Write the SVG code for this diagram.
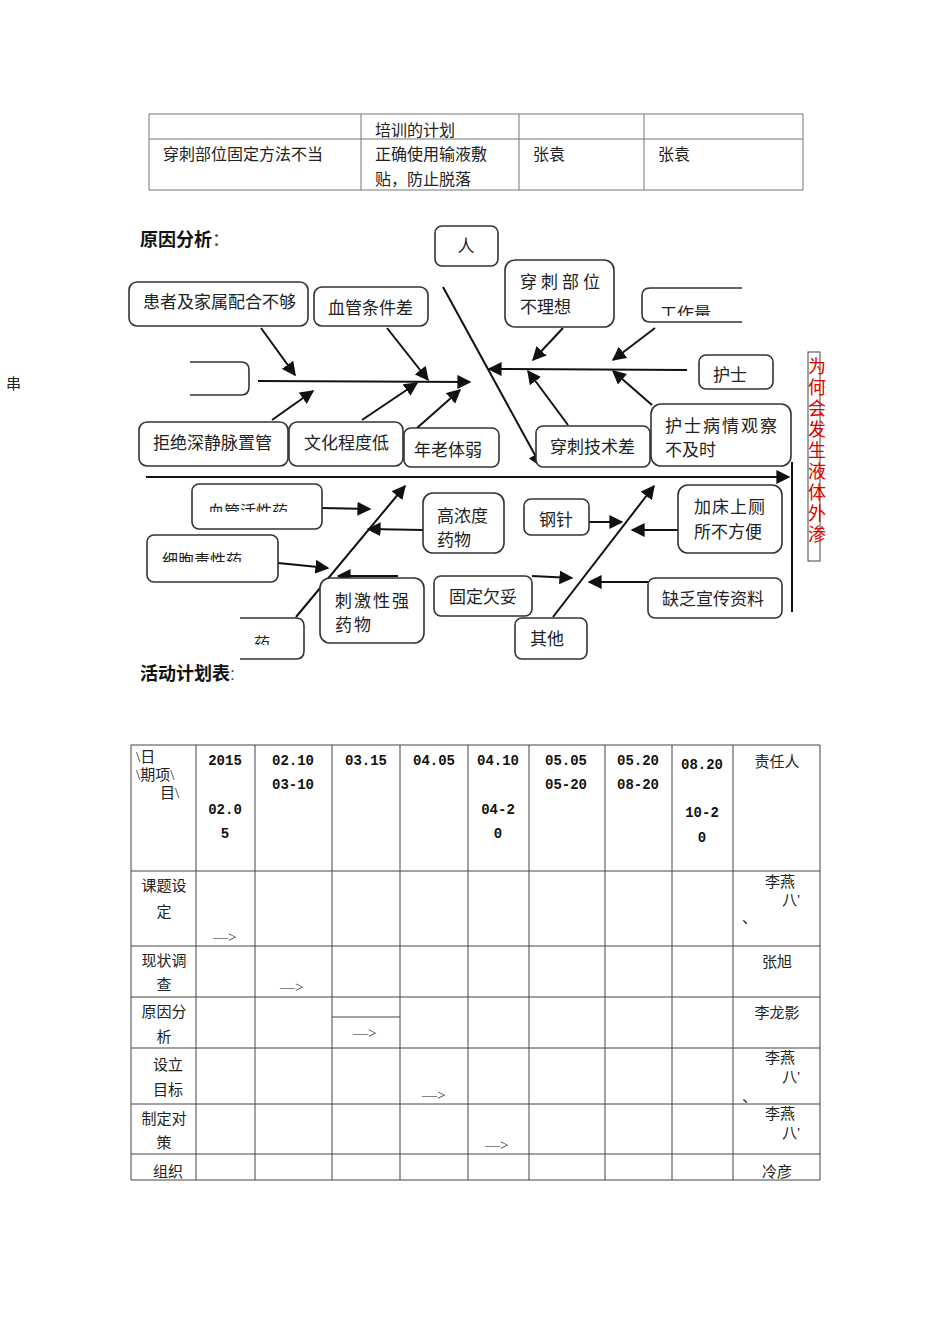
<svg xmlns="http://www.w3.org/2000/svg" width="950" height="1344" viewBox="0 0 950 1344">
<style>
.t{font-family:"Liberation Serif","Noto Sans CJK SC",serif;font-size:16px;fill:#222}
.f{font-size:17px}
.b{font-family:"Liberation Sans","Noto Sans CJK SC",sans-serif;font-size:18px;font-weight:bold;fill:#111}
.n{font-family:"Liberation Mono","Noto Sans CJK SC",monospace;font-size:14px;font-weight:bold;fill:#111}
.s{font-family:"Liberation Serif","Noto Sans CJK SC",serif;font-size:15px;fill:#222}
.bx{fill:#fff;stroke:#333;stroke-width:1.6}
.tl{stroke:#777;stroke-width:1;fill:none}
.tk{stroke:#444;stroke-width:1;fill:none}
.ln{stroke:#111;stroke-width:2;fill:none}
.ar{stroke:#111;stroke-width:2;fill:none;marker-end:url(#ah)}
.red{font-family:"Liberation Sans","Noto Sans CJK SC",sans-serif;font-size:18px;fill:#e00000}
</style>
<defs>
<marker id="ah" viewBox="0 0 10 10" refX="9" refY="5" markerWidth="7" markerHeight="7" orient="auto" markerUnits="strokeWidth">
<path d="M0,0 L10,5 L0,10 z" fill="#111"/>
</marker>
<clipPath id="c1"><rect x="640" y="280" width="110" height="36"/></clipPath>
<clipPath id="c2"><rect x="190" y="480" width="140" height="32"/></clipPath>
<clipPath id="c3"><rect x="145" y="530" width="140" height="32"/></clipPath>
<clipPath id="c4"><rect x="236" y="615" width="70" height="30"/></clipPath>
</defs>
<rect width="950" height="1344" fill="#fff"/>

<!-- top table -->
<g id="top-table">
<path class="tl" d="M149,114 H803 M149,139 H803 M149,190 H803 M149,114 V190 M361,114 V190 M519,114 V190 M644,114 V190 M803,114 V190"/>
<text class="t" x="375" y="136">培训的计划</text>
<text class="t" x="163" y="160">穿刺部位固定方法不当</text>
<text class="t" x="375" y="160">正确使用输液敷</text>
<text class="t" x="375" y="185">贴，防止脱落</text>
<text class="t" x="533" y="160">张袁</text>
<text class="t" x="658" y="160">张袁</text>
</g>

<text class="b" x="140" y="246">原因分析<tspan font-weight="normal" fill="#555">：</tspan></text>
<text class="s" x="6" y="389" font-size="12">串</text>

<!-- connectors -->
<g id="connectors">
<line class="ar" x1="258" y1="381" x2="470" y2="382"/>
<line class="ar" x1="687" y1="370" x2="489" y2="369"/>
<line class="ar" x1="443" y1="287" x2="541" y2="466"/>
<line class="ar" x1="146" y1="477" x2="789" y2="477"/>
<line class="ln" x1="792" y1="462" x2="792" y2="612"/>
<line class="ar" x1="261" y1="328" x2="295" y2="375"/>
<line class="ar" x1="387" y1="328" x2="428" y2="380"/>
<line class="ar" x1="272" y1="420" x2="313" y2="391"/>
<line class="ar" x1="362" y1="420" x2="417" y2="383"/>
<line class="ar" x1="417" y1="428" x2="460" y2="390"/>
<line class="ar" x1="563" y1="328" x2="533" y2="360"/>
<line class="ar" x1="655" y1="328" x2="613" y2="360"/>
<line class="ar" x1="568" y1="425" x2="528" y2="371"/>
<line class="ar" x1="652" y1="405" x2="613" y2="371"/>
<line class="ar" x1="322" y1="508" x2="370" y2="509"/>
<line class="ar" x1="278" y1="563" x2="328" y2="568"/>
<line class="ar" x1="296" y1="617" x2="405" y2="486"/>
<line class="ar" x1="423" y1="530" x2="368" y2="529"/>
<line class="ar" x1="398" y1="576" x2="338" y2="576"/>
<line class="ar" x1="589" y1="522" x2="622" y2="522"/>
<line class="ar" x1="678" y1="530" x2="632" y2="530"/>
<line class="ar" x1="532" y1="576" x2="572" y2="578"/>
<line class="ar" x1="648" y1="582" x2="589" y2="582"/>
<line class="ar" x1="553" y1="617" x2="654" y2="486"/>
</g>

<!-- fishbone nodes -->
<g id="n-ren"><rect class="bx" x="435" y="226" width="63" height="40" rx="7"/><text class="t f" x="466" y="252" text-anchor="middle">人</text></g>
<g id="n-huanzhe"><rect class="bx" x="129" y="282" width="179" height="44" rx="8"/><text class="t f" x="143" y="308">患者及家属配合不够</text></g>
<g id="n-xueguan"><rect class="bx" x="314" y="287" width="114" height="39" rx="8"/><text class="t f" x="328" y="314">血管条件差</text></g>
<g id="n-chuanci"><rect class="bx" x="505" y="260" width="109" height="67" rx="10"/><text class="t f" x="520" y="288" letter-spacing="4">穿刺部位</text><text class="t f" x="520" y="313">不理想</text></g>
<g id="n-gongzuo"><path class="bx" d="M742,288 H650 Q642,288 642,296 V314 Q642,322 650,322 H742"/><text class="t f" x="660" y="320" clip-path="url(#c1)">工作量</text></g>
<g id="n-empty"><path class="bx" d="M190,362 H241 Q249,362 249,370 V387 Q249,395 241,395 H190"/></g>
<g id="n-hushi"><rect class="bx" x="699" y="355" width="74" height="34" rx="7"/><text class="t f" x="713" y="381">护士</text></g>
<g id="n-jujue"><rect class="bx" x="139" y="422" width="149" height="44" rx="8"/><text class="t f" x="153" y="449">拒绝深静脉置管</text></g>
<g id="n-wenhua"><rect class="bx" x="289" y="422" width="114" height="44" rx="8"/><text class="t f" x="304" y="449">文化程度低</text></g>
<g id="n-nianlao"><rect class="bx" x="404" y="428" width="95" height="39" rx="7"/><text class="t f" x="414" y="456">年老体弱</text></g>
<g id="n-jishu"><rect class="bx" x="536" y="426" width="114" height="41" rx="7"/><text class="t f" x="550" y="453">穿刺技术差</text></g>
<g id="n-guancha"><rect class="bx" x="651" y="404" width="140" height="62" rx="10"/><text class="t f" x="665" y="432" letter-spacing="2">护士病情观察</text><text class="t f" x="665" y="456">不及时</text></g>
<g id="n-title"><rect x="808" y="352" width="12" height="209" fill="none" stroke="#444" stroke-width="1"/>
<text class="red" x="817" y="373" text-anchor="middle">为</text><text class="red" x="817" y="394" text-anchor="middle">何</text><text class="red" x="817" y="415" text-anchor="middle">会</text><text class="red" x="817" y="436" text-anchor="middle">发</text><text class="red" x="817" y="457" text-anchor="middle">生</text><text class="red" x="817" y="478" text-anchor="middle">液</text><text class="red" x="817" y="499" text-anchor="middle">体</text><text class="red" x="817" y="520" text-anchor="middle">外</text><text class="red" x="817" y="541" text-anchor="middle">渗</text></g>
<g id="n-huoxing"><rect class="bx" x="192" y="484" width="130" height="45" rx="7"/><text class="t" x="208" y="517" clip-path="url(#c2)">血管活性药</text></g>
<g id="n-xibao"><rect class="bx" x="147" y="535" width="131" height="47" rx="7"/><text class="t" x="162" y="566" clip-path="url(#c3)">细胞毒性药</text></g>
<g id="n-yao"><path class="bx" d="M240,618 H296 Q304,618 304,626 V651 Q304,659 296,659 H240"/><text class="t" x="254" y="649" clip-path="url(#c4)">药</text></g>
<g id="n-ciji"><rect class="bx" x="320" y="578" width="104" height="65" rx="10"/><text class="t f" x="335" y="607" letter-spacing="2">刺激性强</text><text class="t f" x="335" y="631" letter-spacing="2">药物</text></g>
<g id="n-gaonong"><rect class="bx" x="423" y="493" width="81" height="60" rx="10"/><text class="t f" x="437" y="522">高浓度</text><text class="t f" x="437" y="546">药物</text></g>
<g id="n-gangzhen"><rect class="bx" x="524" y="499" width="65" height="36" rx="7"/><text class="t f" x="539" y="526">钢针</text></g>
<g id="n-jiachuang"><rect class="bx" x="678" y="485" width="104" height="68" rx="10"/><text class="t f" x="694" y="513" letter-spacing="1">加床上厕</text><text class="t f" x="694" y="538">所不方便</text></g>
<g id="n-guding"><rect class="bx" x="434" y="576" width="98" height="40" rx="7"/><text class="t f" x="449" y="603">固定欠妥</text></g>
<g id="n-quefa"><rect class="bx" x="648" y="578" width="134" height="40" rx="7"/><text class="t f" x="662" y="605">缺乏宣传资料</text></g>
<g id="n-qita"><rect class="bx" x="515" y="618" width="72" height="41" rx="7"/><text class="t f" x="530" y="645">其他</text></g>

<text class="b" x="140" y="680">活动计划表<tspan font-weight="normal" fill="#555">:</tspan></text>

<!-- bottom table -->
<g id="plan-table">
<path class="tk" d="M131,745 H820 M131,871 H820 M131,946 H820 M131,997 H820 M131,1048 H820 M131,1104 H820 M131,1154 H820 M131,1180 H820 M332,1017 H400"/>
<path class="tk" d="M131,745 V1180 M196,745 V1180 M255,745 V1180 M332,745 V1180 M400,745 V1180 M468,745 V1180 M529,745 V1180 M605,745 V1180 M672,745 V1180 M733,745 V1180 M820,745 V1180"/>
<text class="s" x="136" y="762" font-size="13">\日</text>
<text class="s" x="136" y="780" font-size="13">\期项\</text>
<text class="s" x="160" y="798" font-size="13">目\</text>
<text class="n" x="225" y="765" text-anchor="middle">2015</text>
<text class="n" x="225" y="814" text-anchor="middle">02.0</text>
<text class="n" x="225" y="838" text-anchor="middle">5</text>
<text class="n" x="293" y="765" text-anchor="middle">02.10</text>
<text class="n" x="293" y="789" text-anchor="middle">03-10</text>
<text class="n" x="366" y="765" text-anchor="middle">03.15</text>
<text class="n" x="434" y="765" text-anchor="middle">04.05</text>
<text class="n" x="498" y="765" text-anchor="middle">04.10</text>
<text class="n" x="498" y="814" text-anchor="middle">04-2</text>
<text class="n" x="498" y="838" text-anchor="middle">0</text>
<text class="n" x="566" y="765" text-anchor="middle">05.05</text>
<text class="n" x="566" y="789" text-anchor="middle">05-20</text>
<text class="n" x="638" y="765" text-anchor="middle">05.20</text>
<text class="n" x="638" y="789" text-anchor="middle">08-20</text>
<text class="n" x="702" y="769" text-anchor="middle">08.20</text>
<text class="n" x="702" y="817" text-anchor="middle">10-2</text>
<text class="n" x="702" y="842" text-anchor="middle">0</text>
<text class="s" x="777" y="767" text-anchor="middle">责任人</text>

<text class="s" x="164" y="891" text-anchor="middle">课题设</text>
<text class="s" x="164" y="917" text-anchor="middle">定</text>
<text class="s" x="213" y="942">—&gt;</text>
<text class="s" x="164" y="966" text-anchor="middle">现状调</text>
<text class="s" x="164" y="990" text-anchor="middle">查</text>
<text class="s" x="280" y="992">—&gt;</text>
<text class="s" x="164" y="1017" text-anchor="middle">原因分</text>
<text class="s" x="164" y="1042" text-anchor="middle">析</text>
<text class="s" x="353" y="1038">—&gt;</text>
<text class="s" x="168" y="1070" text-anchor="middle">设立</text>
<text class="s" x="168" y="1095" text-anchor="middle">目标</text>
<text class="s" x="422" y="1100">—&gt;</text>
<text class="s" x="164" y="1124" text-anchor="middle">制定对</text>
<text class="s" x="164" y="1148" text-anchor="middle">策</text>
<text class="s" x="485" y="1150">—&gt;</text>
<text class="s" x="168" y="1177" text-anchor="middle">组织</text>

<text class="s" x="780" y="887" text-anchor="middle">李燕</text>
<text class="s" x="791" y="905" text-anchor="middle">八'</text>
<text class="s" x="742" y="923">、</text>
<text class="s" x="777" y="967" text-anchor="middle">张旭</text>
<text class="s" x="777" y="1018" text-anchor="middle">李龙影</text>
<text class="s" x="780" y="1063" text-anchor="middle">李燕</text>
<text class="s" x="791" y="1082" text-anchor="middle">八'</text>
<text class="s" x="742" y="1102">、</text>
<text class="s" x="780" y="1119" text-anchor="middle">李燕</text>
<text class="s" x="791" y="1138" text-anchor="middle">八'</text>
<text class="s" x="777" y="1177" text-anchor="middle">冷彦</text>
</g>
</svg>
